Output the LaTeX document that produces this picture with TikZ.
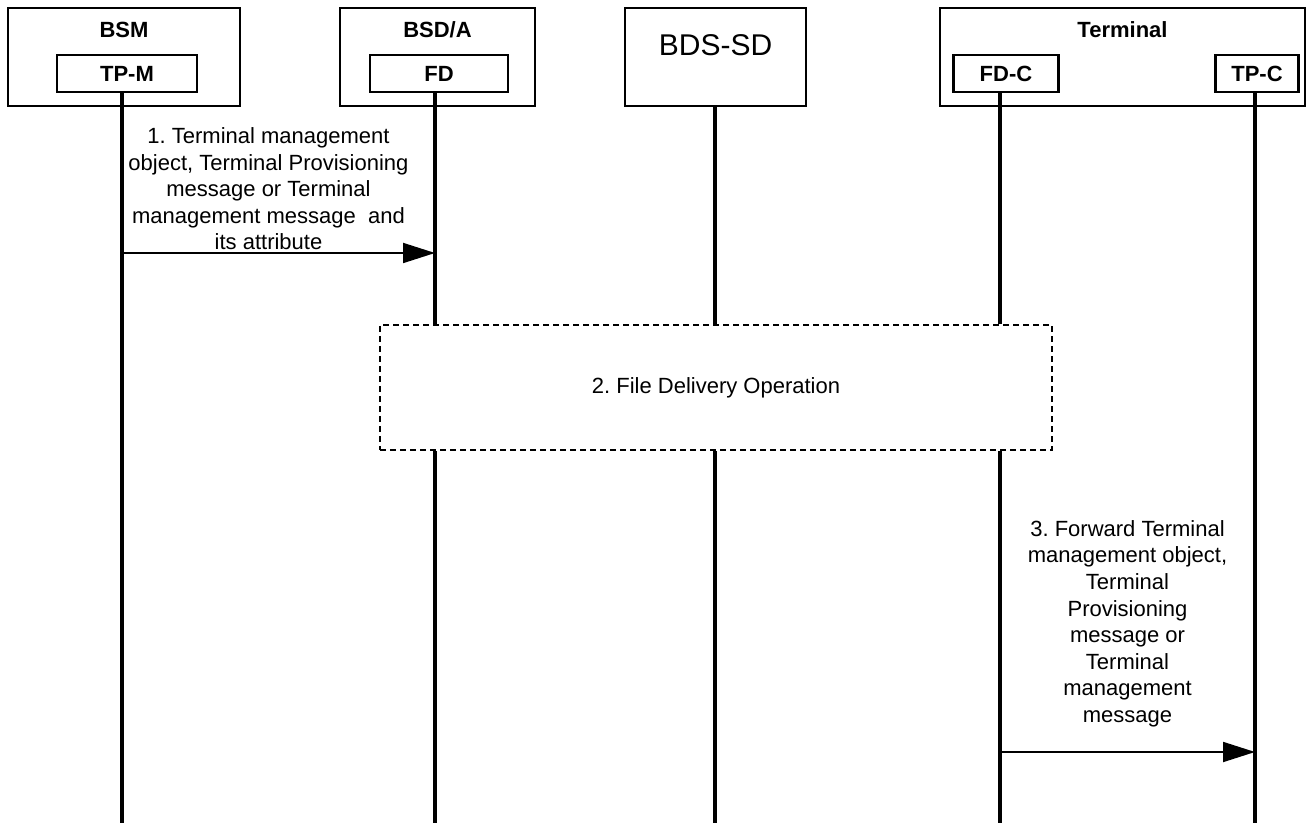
\documentclass[tikz,border=0pt]{standalone}
\usepackage{fontspec}
\setmainfont{Liberation Sans}
\frenchspacing
\usetikzlibrary{arrows.meta,positioning,calc}

\begin{document}
\begin{tikzpicture}[
    x=0.5pt, y=-0.5pt,
    entity/.style={rectangle, draw, line width=1.2pt, inner sep=0pt},
    unit/.style={rectangle, draw, line width=1.2pt, minimum height=18.5pt, inner sep=0pt, font=\bfseries\fontsize{11}{13}\selectfont},
    title/.style={font=\bfseries\fontsize{11}{13}\selectfont},
    lifeline/.style={line width=1.8pt},
    msg/.style={-{Triangle[length=16pt,width=10pt]}, line width=0.9pt},
    msgtext/.style={align=center, inner sep=0pt, font=\fontsize{11}{13.3}\selectfont},
    opbox/.style={rectangle, draw, line width=1.2pt, dash pattern=on 3pt off 2pt, minimum width=336pt, minimum height=62.5pt, font=\fontsize{11}{13}\selectfont}
]
\useasboundingbox (0,0) rectangle (1312,823);

% Entity boxes
\node[entity, minimum width=116pt, minimum height=49pt] (bsm) at (124,57) {};
\node[entity, minimum width=97.5pt, minimum height=49pt] (bsda) at (437.5,57) {};
\node[entity, minimum width=90.5pt, minimum height=49pt] (bdssd) at (715.5,57) {};
\node[entity, minimum width=182.5pt, minimum height=49pt] (terminal) at (1122.5,57) {};

% Titles
\node[title] (bsmTitle) at (124,30) {BSM};
\node[title] (bsdaTitle) at (437.5,30) {BSD/A};
\node[font=\fontsize{15}{18}\selectfont] (bdssdTitle) at (715.5,45) {BDS-SD};
\node[title] (terminalTitle) at (1122.5,30) {Terminal};

% Functional units
\node[unit, minimum width=70pt] (tpm) at (127,73.5) {TP-M};
\node[unit, minimum width=69pt] (fd) at (439,73.5) {FD};
\node[unit, minimum width=52.5pt] (fdc) at (1006,73.5) {FD-C};
\node[unit, minimum width=41.5pt] (tpc) at (1257,73.5) {TP-C};

% File delivery operation
\node[opbox] (fdo) at (716,387.5) {2. File Delivery Operation};

% Lifeline ends
\coordinate (tpmEnd) at (122,823);
\coordinate (fdEnd) at (435,823);
\coordinate (bdssdEnd) at (715,823);
\coordinate (fdcEnd) at (1000,823);
\coordinate (tpcEnd) at (1255,823);

% Lifelines
\draw[lifeline] (tpmEnd |- tpm.south) -- (tpmEnd);
\draw[lifeline] (fdEnd |- fd.south) -- (fdEnd |- fdo.north);
\draw[lifeline] (fdEnd |- fdo.south) -- (fdEnd);
\draw[lifeline] (bdssdEnd |- bdssd.south) -- (bdssdEnd |- fdo.north);
\draw[lifeline] (bdssdEnd |- fdo.south) -- (bdssdEnd);
\draw[lifeline] (fdcEnd |- fdc.south) -- (fdcEnd |- fdo.north);
\draw[lifeline] (fdcEnd |- fdo.south) -- (fdcEnd);
\draw[lifeline] (tpcEnd |- tpc.south) -- (tpcEnd);

% Messages
\coordinate (m1) at (0,253);
\coordinate (m3) at (0,752);

\draw[msg] (tpmEnd |- m1) -- node[msgtext, above=1pt, xshift=-5pt] {1. Terminal management\\object, Terminal Provisioning\\message or Terminal\\management message\ \ and\\its attribute} (fdEnd |- m1);

\draw[msg] (fdcEnd |- m3) -- node[msgtext, above=12pt] {3. Forward Terminal\\management object,\\Terminal\\Provisioning\\message or\\Terminal\\management\\message} (tpcEnd |- m3);

\end{tikzpicture}
\end{document}
